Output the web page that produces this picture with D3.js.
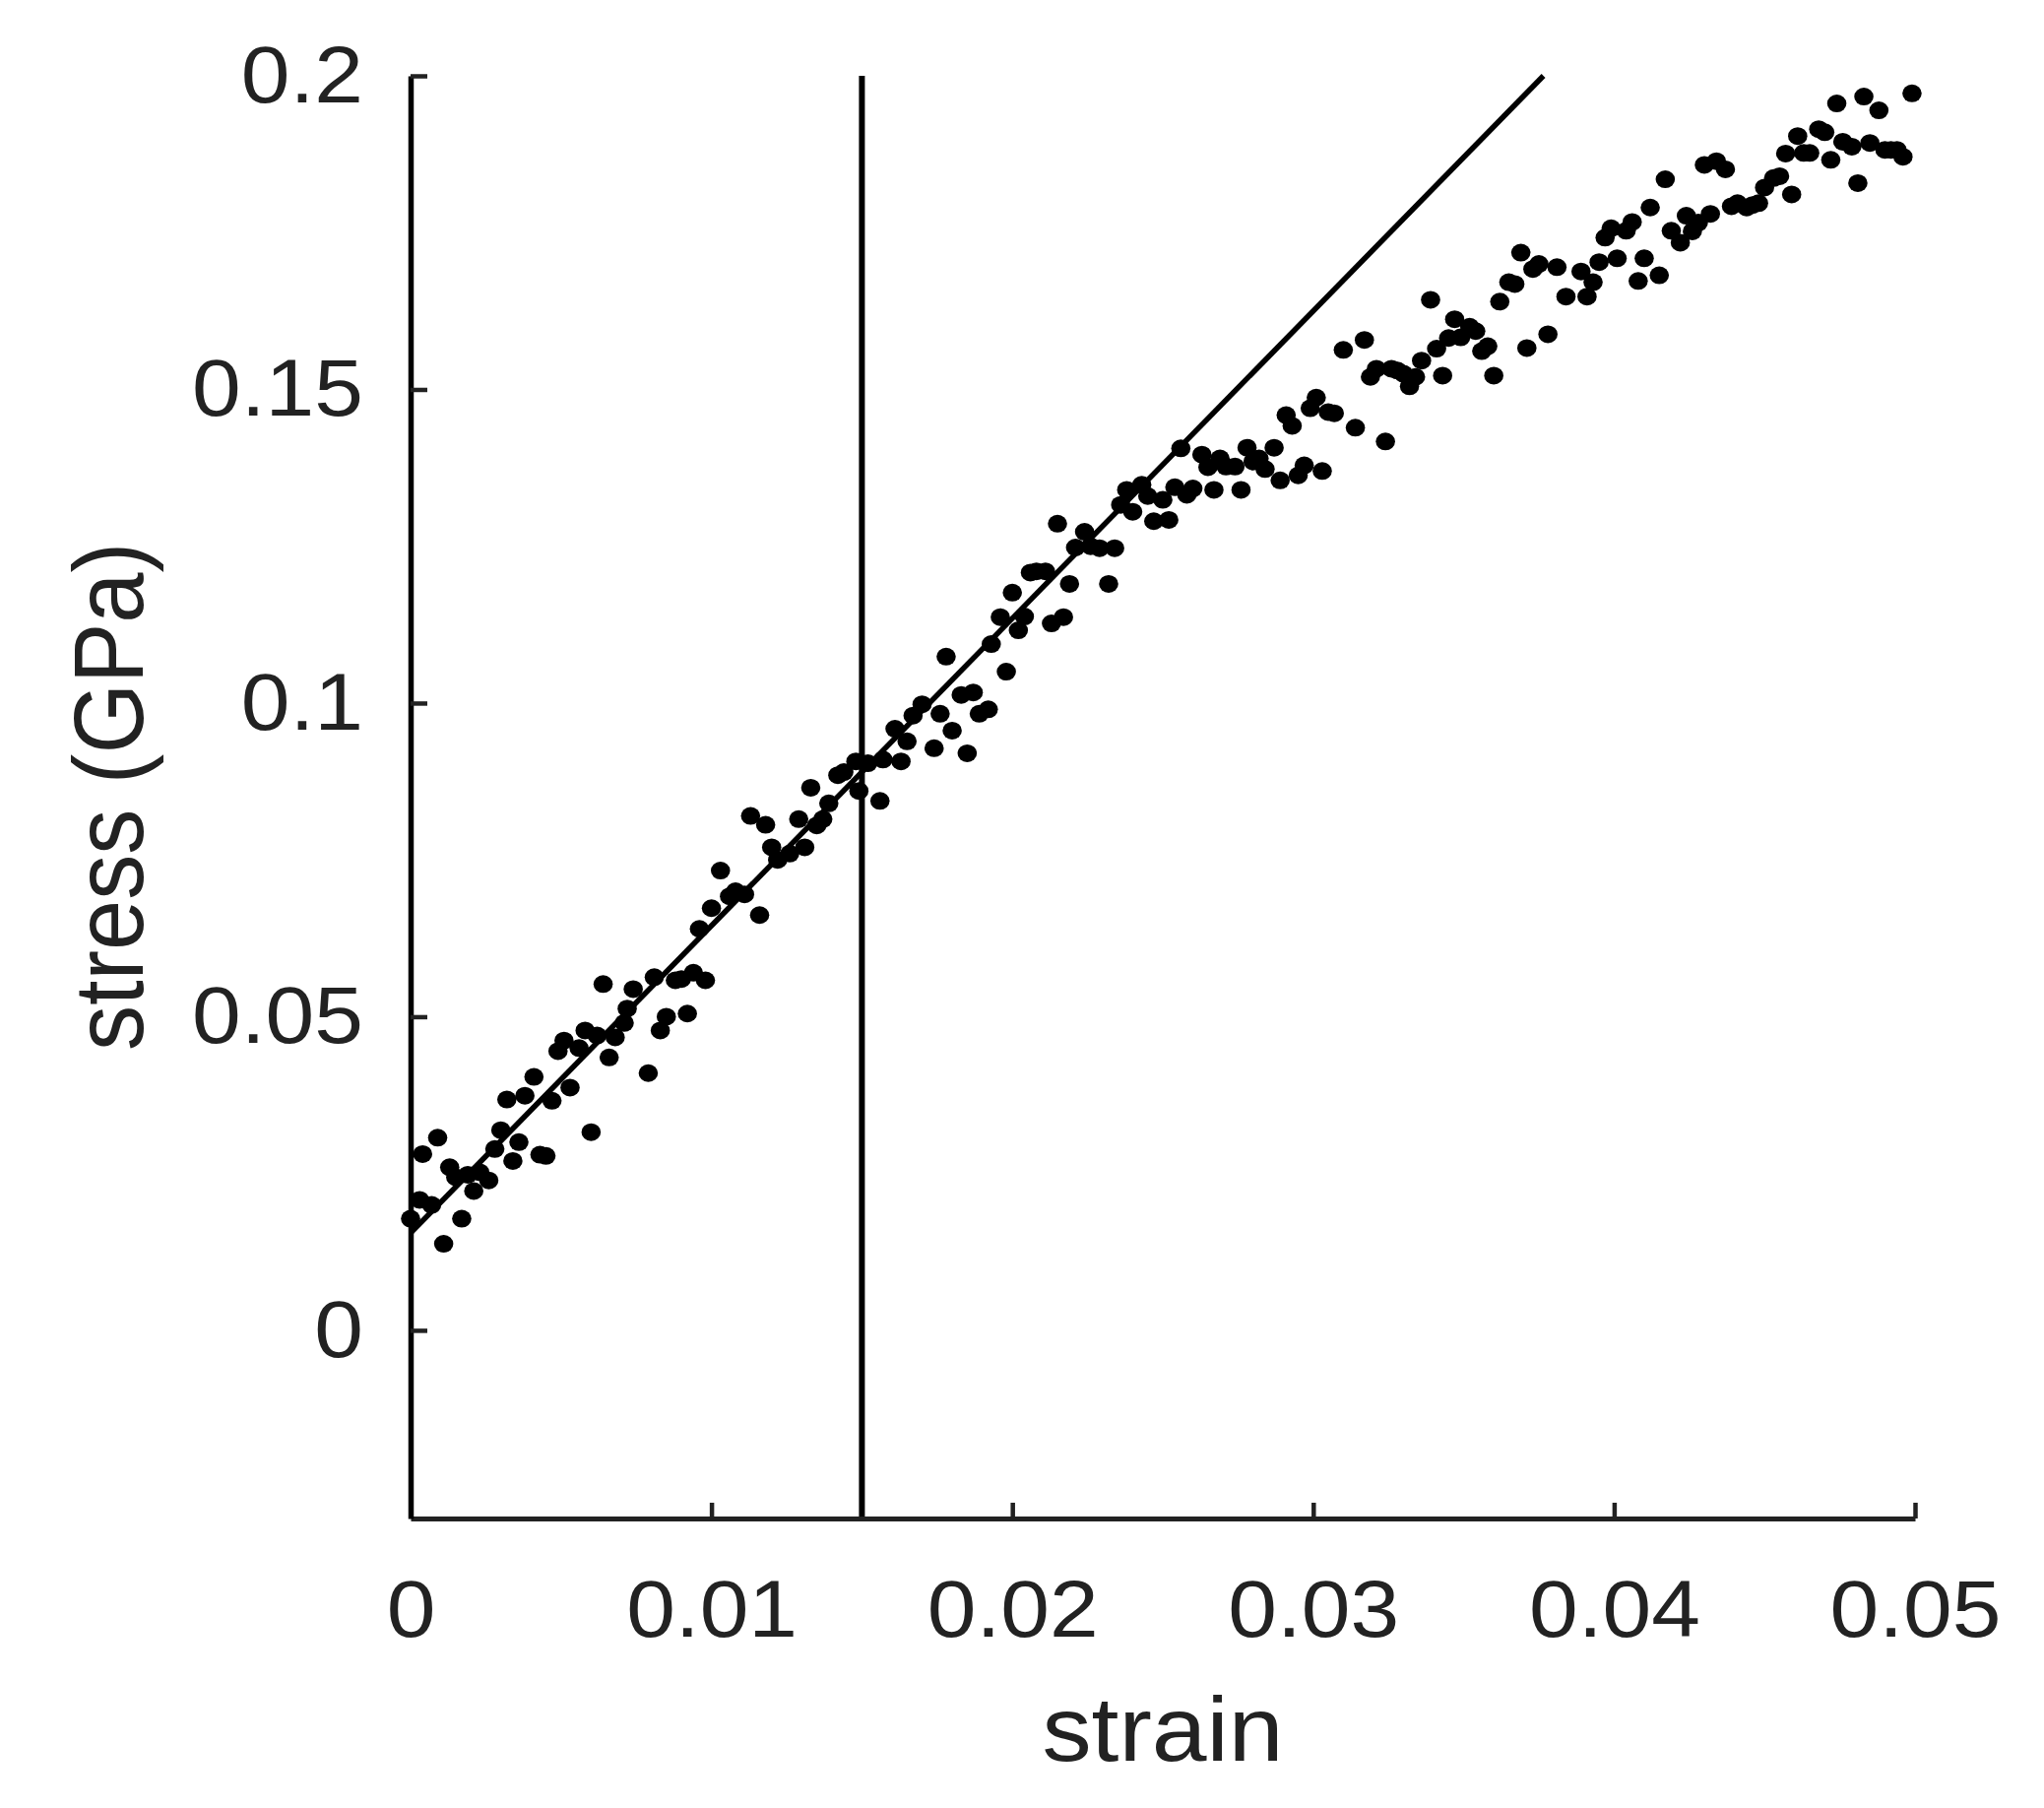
<!DOCTYPE html>
<html>
<head>
<meta charset="utf-8">
<script src="https://cdn.jsdelivr.net/npm/d3@7"></script>
<style>
body { margin: 0; background: #fff; }
.tick text { font-family: "Liberation Sans", Arial, sans-serif; fill: #222; }
.title { font-family: "Liberation Sans", Arial, sans-serif; fill: #222; }
</style>
</head>
<body>
<script>
// measured points (strain, stress in GPa)
var strain = [
  0.0000,0.0003,0.0004,0.0007,0.0009,0.0011,0.0013,0.0015,0.0017,0.0019,0.0021,0.0023,0.0026,0.0028,0.0030,0.0032,0.0034,0.0036,
  0.0038,0.0041,0.0043,0.0045,0.0047,0.0049,0.0051,0.0053,0.0056,0.0058,0.0060,0.0062,0.0064,0.0066,0.0068,0.0071,0.0072,0.0074,
  0.0079,0.0081,0.0083,0.0085,0.0088,0.0090,0.0092,0.0094,0.0096,0.0098,0.0100,0.0103,0.0106,0.0108,0.0111,0.0113,0.0116,0.0118,
  0.0120,0.0122,0.0126,0.0129,0.0131,0.0133,0.0135,0.0137,0.0139,0.0142,0.0144,0.0148,0.0149,
  0.0152,0.0156,0.0157,0.0161,0.0163,0.0165,0.0167,0.0170,0.0174,0.0176,0.0178,0.0180,0.0183,0.0185,0.0187,0.0189,0.0192,0.0193,
  0.0196,0.0198,0.0200,0.0202,0.0204,0.0206,0.0208,0.0211,0.0213,0.0215,0.0217,0.0219,0.0221,0.0224,0.0226,
  0.0229,0.0232,0.0234,0.0236,0.0238,0.0240,0.0243,0.0245,0.0247,0.0250,0.0252,0.0254,0.0256,0.0258,0.0260,0.0263,0.0265,0.0267,
  0.0269,0.0271,0.0274,0.0276,0.0278,0.0280,0.0282,0.0284,0.0287,0.0289,0.0291,0.0293,0.0295,0.0297,0.0299,0.0301,0.0303,0.0305,
  0.0307,0.0310,0.0314,0.0317,0.0319,0.0321,0.0324,0.0326,0.0328,0.0330,0.0332,0.0334,0.0336,0.0339,0.0341,0.0343,0.0345,0.0347,
  0.0349,0.0352,0.0354,0.0356,0.0358,0.0360,0.0362,0.0365,0.0367,0.0369,0.0371,0.0373,0.0375,0.0378,0.0381,
  0.0384,0.0389,0.0391,0.0393,0.0395,0.0397,0.0399,0.0401,0.0404,0.0406,0.0408,0.0410,0.0412,0.0415,0.0417,0.0419,0.0422,0.0424,
  0.0426,0.0428,0.0430,0.0432,0.0434,0.0437,0.0439,0.0441,0.0444,0.0446,0.0448,0.0450,0.0453,0.0455,0.0457,0.0459,
  0.0461,0.0463,0.0465,0.0468,0.0470,0.0472,0.0474,0.0476,0.0479,0.0481,0.0483,0.0485,0.0488,0.0490,0.0492,0.0494,0.0496,0.0499
];
var stress = [
  0.0178,0.0208,0.0281,0.0200,0.0307,0.0138,0.0260,0.0244,0.0178,0.0248,0.0222,0.0252,0.0239,0.0289,0.0319,0.0368,0.0270,0.0300,
  0.0374,0.0404,0.0280,0.0278,0.0366,0.0445,0.0462,0.0387,0.0450,0.0478,0.0316,0.0470,0.0552,0.0435,0.0467,0.0490,0.0513,0.0544,
  0.0410,0.0563,0.0478,0.0500,0.0558,0.0560,0.0505,0.0570,0.0640,0.0558,0.0673,0.0733,0.0692,0.0700,0.0695,0.0820,0.0662,0.0806,
  0.0770,0.0750,0.0760,0.0815,0.0770,0.0865,0.0805,0.0815,0.0840,0.0885,0.0890,0.0907,0.0860,
  0.0904,0.0844,0.0910,0.0959,0.0907,0.0939,0.0980,0.0998,0.0928,0.0983,0.1074,0.0956,0.1013,0.0920,0.1017,0.0983,0.0990,0.1094,
  0.1137,0.1050,0.1176,0.1116,0.1138,0.1208,0.1210,0.1210,0.1127,0.1286,0.1137,0.1190,0.1248,0.1273,0.1250,
  0.1247,0.1190,0.1247,0.1316,0.1340,0.1305,0.1348,0.1330,0.1290,0.1324,0.1292,0.1344,0.1406,0.1332,0.1342,0.1396,0.1376,0.1340,
  0.1390,0.1377,0.1377,0.1340,0.1407,0.1385,0.1390,0.1373,0.1407,0.1355,0.1459,0.1442,0.1363,0.1379,0.1470,0.1487,0.1370,0.1464,
  0.1462,0.1563,0.1439,0.1579,0.1520,0.1533,0.1417,0.1533,0.1530,0.1525,0.1505,0.1520,0.1546,0.1643,0.1565,0.1522,0.1582,0.1612,
  0.1583,0.1600,0.1593,0.1561,0.1569,0.1522,0.1640,0.1671,0.1668,0.1718,0.1566,0.1692,0.1700,0.1588,0.1695,
  0.1648,0.1688,0.1648,0.1671,0.1703,0.1742,0.1757,0.1709,0.1753,0.1767,0.1673,0.1709,0.1790,0.1682,0.1835,0.1753,0.1734,0.1777,
  0.1752,0.1766,0.1858,0.1780,0.1864,0.1851,0.1792,0.1797,0.1790,0.1794,0.1797,0.1822,0.1837,0.1840,0.1876,0.1811,
  0.1904,0.1877,0.1877,0.1915,0.1910,0.1866,0.1956,0.1895,0.1887,0.1829,0.1967,0.1893,0.1945,0.1882,0.1882,0.1882,0.1871,0.1972
];

// linear fit end points and the marker line at strain 0.015
var fitStrain = [0, 0.03765];
var fitStress = [0.0155, 0.2];
var markerStrain = 0.015;

var xTicks = [0, 0.01, 0.02, 0.03, 0.04, 0.05];
var yTicks = [0, 0.05, 0.1, 0.15, 0.2];

var width = 2076, height = 1836;
var plotLeft = 417, plotRight = 1945, plotTop = 77, plotBottom = 1542;
var stretch = 1.09; // picture is a bit wider than tall

var x = d3.scaleLinear().domain([0, 0.05]).range([plotLeft, plotRight]);
var y = d3.scaleLinear().domain([-0.03, 0.2]).range([plotBottom, plotTop]);

var svg = d3.select("body").append("svg")
    .attr("width", width)
    .attr("height", height)
    .style("background", "#fff");

// vertical marker line
svg.append("line")
    .attr("x1", x(markerStrain)).attr("x2", x(markerStrain))
    .attr("y1", y(0.2)).attr("y2", y(-0.03))
    .attr("stroke", "#000").attr("stroke-width", 6);

// fitted line
svg.append("line")
    .attr("x1", x(fitStrain[0])).attr("y1", y(fitStress[0]))
    .attr("x2", x(fitStrain[1])).attr("y2", y(fitStress[1]))
    .attr("stroke", "#000").attr("stroke-width", 5.5);

// points
svg.append("g").selectAll("ellipse")
    .data(d3.range(strain.length))
    .enter().append("ellipse")
    .attr("cx", function(i) { return x(strain[i]); })
    .attr("cy", function(i) { return y(stress[i]); })
    .attr("rx", 9.8)
    .attr("ry", 9)
    .attr("fill", "#000");

// axes, ticks pointing inward
var xAxis = svg.append("g")
    .attr("transform", "translate(0," + plotBottom + ")")
    .call(d3.axisBottom(x).tickValues(xTicks).tickSize(-16).tickSizeOuter(0).tickPadding(62)
        .tickFormat(function(d) { return d === 0 ? "0" : d3.format(".2f")(d); }));

var yAxis = svg.append("g")
    .attr("transform", "translate(" + plotLeft + ",0)")
    .call(d3.axisLeft(y).tickValues(yTicks).tickSize(-17).tickSizeOuter(0).tickPadding(48)
        .tickFormat(function(d) { return d === 0 ? "0" : String(+d.toFixed(2)); }));

xAxis.select(".domain").attr("stroke", "#222").attr("stroke-width", 5);
yAxis.select(".domain").attr("stroke", "#000").attr("stroke-width", 5.5);
xAxis.selectAll(".tick line").attr("stroke", "#222").attr("stroke-width", 4.5);
yAxis.selectAll(".tick line").attr("stroke", "#222").attr("stroke-width", 4.5);

xAxis.selectAll(".tick text")
    .attr("font-size", 82)
    .attr("transform", "scale(" + stretch + ",1)");
yAxis.selectAll(".tick text")
    .attr("font-size", 82)
    .attr("x", -48 / stretch)
    .attr("transform", "scale(" + stretch + ",1)");

// axis titles
svg.append("text")
    .attr("class", "title")
    .attr("transform", "translate(" + (plotLeft + plotRight) / 2 + ",1788) scale(" + stretch + ",1)")
    .attr("text-anchor", "middle")
    .attr("font-size", 92)
    .text("strain");

svg.append("text")
    .attr("class", "title")
    .attr("transform", "translate(145,809) scale(" + stretch + ",1) rotate(-90)")
    .attr("text-anchor", "middle")
    .attr("font-size", 92)
    .text("stress (GPa)");
</script>
</body>
</html>
